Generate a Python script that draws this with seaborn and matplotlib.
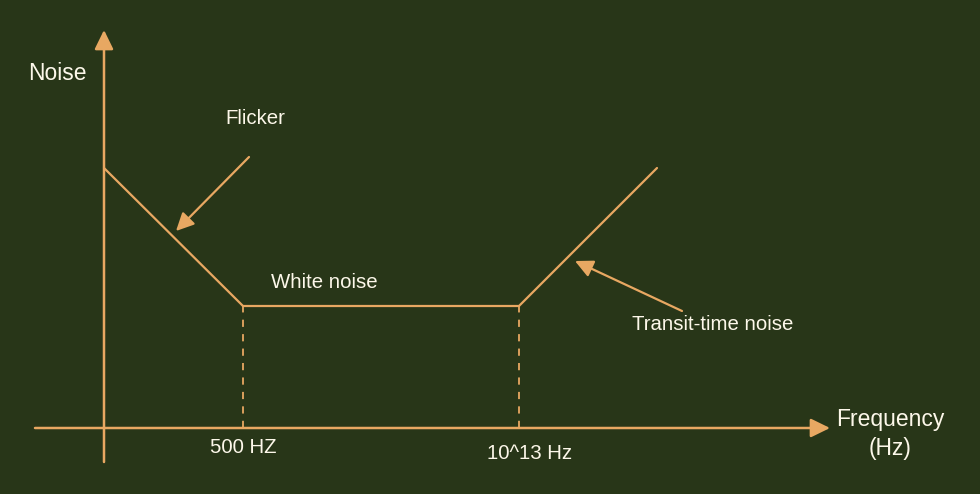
import matplotlib
matplotlib.use("Agg")
import matplotlib.pyplot as plt
import seaborn as sns
import pandas as pd

# ---- data (diagram units: origin at the axes crossing) ----
freq_pts = [0, 139, 415, 553]          # frequency positions of the curve corners
noise_pts = [260, 122, 122, 260]       # noise level at those positions
corner_freqs = [139, 415]              # 500 HZ and 10^13 Hz
corner_labels = ["500 HZ", "10^13 Hz"]
region_labels = ["Flicker", "White noise", "Transit-time noise"]

BG = "#283618"
LINE = "#e8a862"
TXT = "#fdf8ea"

sns.set_theme(style="white")
plt.rcParams["font.family"] = ["Liberation Sans", "DejaVu Sans"]

fig = plt.figure(figsize=(9.8, 4.94), dpi=100, facecolor=BG)
ax = fig.add_axes([0, 0, 1, 1])
ax.set_facecolor(BG)
ax.set_xlim(-104, 876)
ax.set_ylim(-66, 428)
ax.axis("off")

df = pd.DataFrame({"freq": freq_pts, "noise": noise_pts})
sns.lineplot(data=df, x="freq", y="noise", ax=ax, color=LINE, lw=1.6,
             sort=False, estimator=None)

# dashed drop lines
for f in corner_freqs:
    ax.plot([f, f], [0, noise_pts[1]], color=LINE, lw=1.3, ls=(0, (4, 4)))

ax.text(139, -19, corner_labels[0], color=TXT, fontsize=14.7, ha="center", va="center")
ax.text(426, -25, corner_labels[1], color=TXT, fontsize=14.7, ha="center", va="center")

# axes arrows
arrow_kw = dict(arrowstyle="-|>,head_length=0.45,head_width=0.22", color=LINE, lw=1.8,
                mutation_scale=26, shrinkA=0, shrinkB=0)
ax.annotate("", xy=(0, 398), xytext=(0, -34), arrowprops=arrow_kw)
ax.annotate("", xy=(726, 0), xytext=(-69, 0), arrowprops=arrow_kw)

ax.text(-47, 355, "Noise", color=TXT, fontsize=16.5, ha="center", va="center")
ax.text(786, -6, "Frequency\n(Hz)", color=TXT, fontsize=16.5, ha="center",
        va="center", linespacing=1.3)

# annotation arrows
ann_kw = dict(arrowstyle="-|>,head_length=0.45,head_width=0.22", color=LINE, lw=1.6,
              mutation_scale=24, shrinkA=0, shrinkB=0)
ax.annotate("", xy=(72, 197), xytext=(145, 271), arrowprops=ann_kw)
ax.annotate("", xy=(471, 167), xytext=(578, 117), arrowprops=ann_kw)

ax.text(151, 310, region_labels[0], color=TXT, fontsize=14.7, ha="center", va="center")
ax.text(220, 146, region_labels[1], color=TXT, fontsize=14.7, ha="center", va="center")
ax.text(609, 104, region_labels[2], color=TXT, fontsize=14.7, ha="center", va="center")

fig.savefig("out.png", dpi=100, facecolor=BG)
